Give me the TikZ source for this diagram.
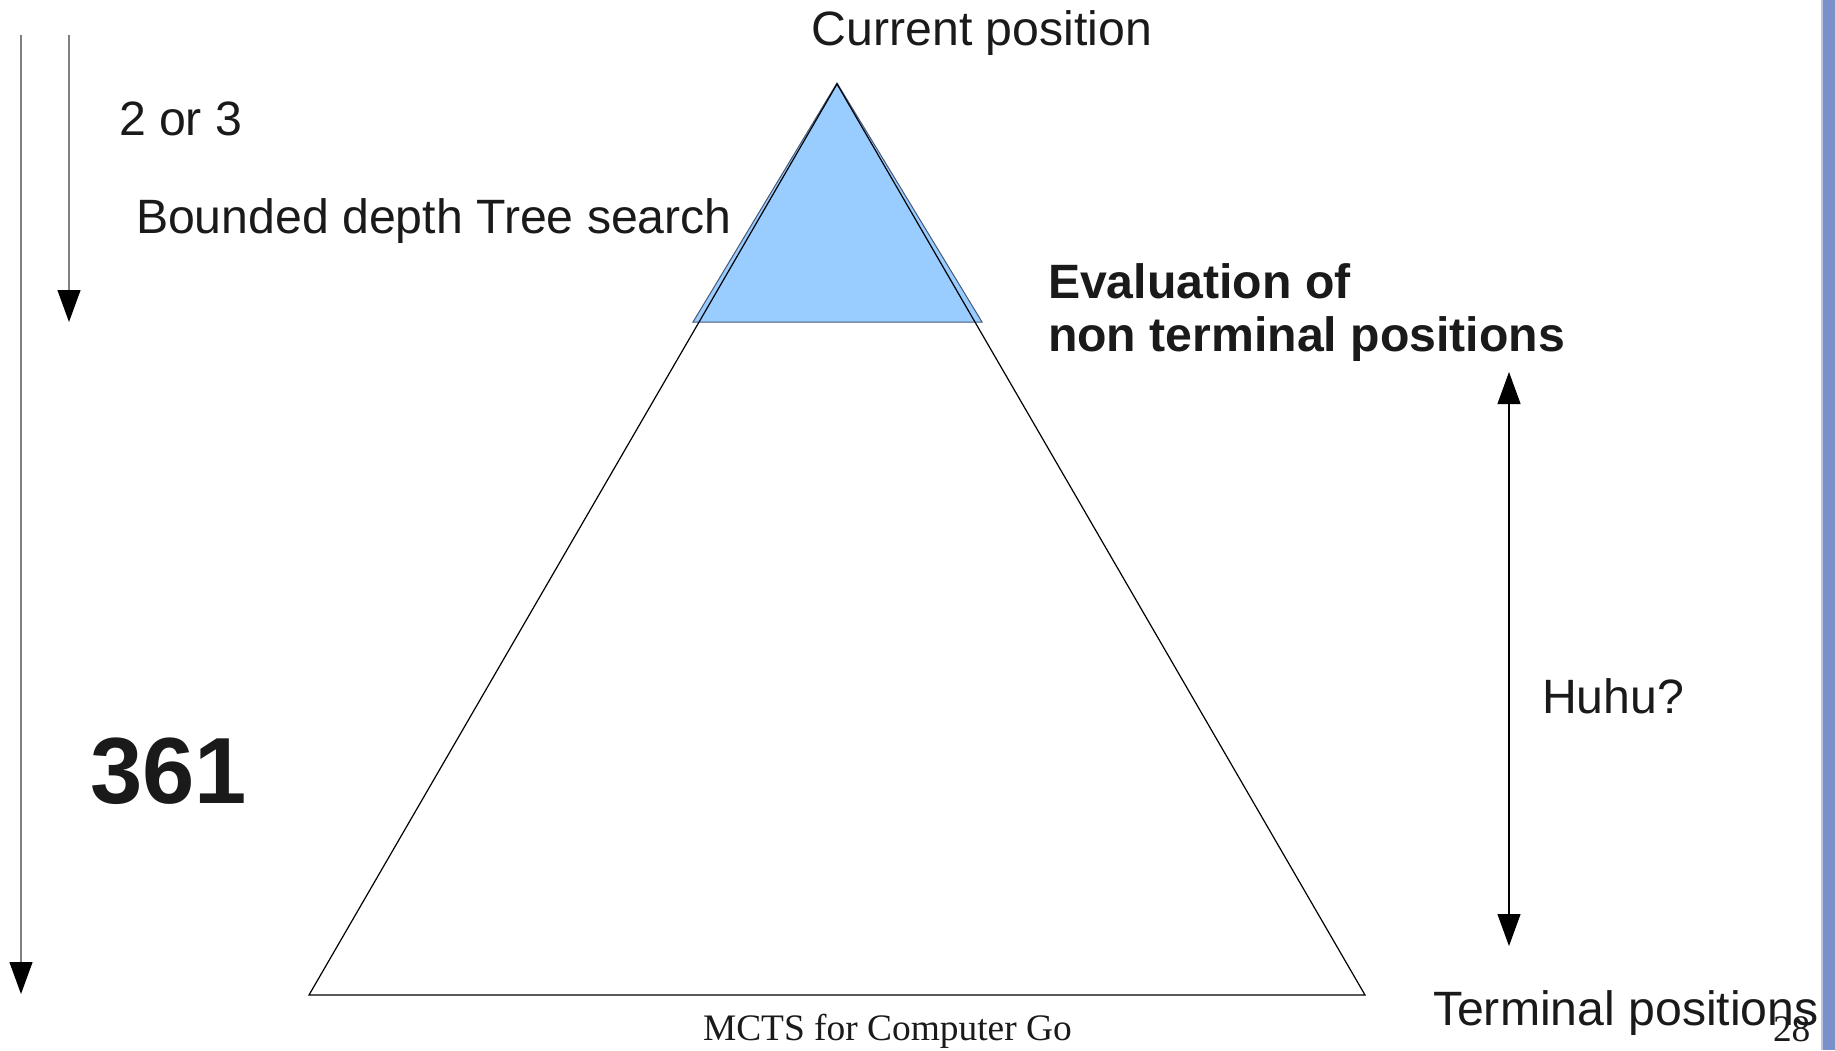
\documentclass[tikz,border=0pt]{standalone}
\usepackage{fontspec}
\setmainfont{Liberation Sans}
\newfontfamily\footerfont{Liberation Serif}
\usetikzlibrary{arrows.meta}

\definecolor{searchblue}{RGB}{153,204,255}
\definecolor{searchedge}{RGB}{70,90,120}
\definecolor{depthgray}{RGB}{128,128,128}
\definecolor{inktext}{RGB}{26,26,26}
\definecolor{sidebarblue}{RGB}{122,144,200}
\definecolor{sidebaredge}{RGB}{185,198,226}

\begin{document}
\begin{tikzpicture}[x=0.5pt,y=-0.5pt,
  txt/.style={inner sep=0pt,outer sep=0pt,anchor=base west,text=inktext,
    font=\fontsize{24.1}{26}\selectfont},
  boldtxt/.style={txt,font=\fontsize{24.1}{26}\selectfont\bfseries},
  bigtxt/.style={txt,font=\fontsize{47}{52}\selectfont\bfseries},
  foot/.style={inner sep=0pt,outer sep=0pt,anchor=base west,text=inktext,
    font=\footerfont\fontsize{18.7}{20}\selectfont},
  headtip/.style={-{Triangle[length=16pt,width=11.5pt,color=black]}},
  depthline/.style={draw=depthgray,line width=0.6pt,headtip},
  spanline/.style={draw=black,line width=0.55pt,
    {Triangle[length=16pt,width=11.5pt]}-{Triangle[length=16pt,width=11.5pt]}},
  treeedge/.style={draw=black,line width=0.6pt,line join=miter},
  searchtri/.style={fill=searchblue,draw=searchedge,line width=0.5pt}
]
\useasboundingbox (0,0) rectangle (1835,1050);
\fill[white] (0,0) rectangle (1835,1050);

% slide side bar
\fill[sidebarblue] (1821,0) rectangle (1835,1050);
\draw[sidebaredge,line width=0.8pt] (1821.8,0) -- (1821.8,1050);

% game tree corners
\coordinate (root) at (837,84);
\coordinate (leafL) at (309,995);
\coordinate (leafR) at (1365,995);
% bounded search corners
\coordinate (sroot) at (837,83);
\coordinate (sL) at (693,322);
\coordinate (sR) at (982,322);

% shallow search region, then the full tree on top
\path[searchtri] (sroot) -- (sL) -- (sR) -- cycle;
\draw[treeedge] (root) -- (leafL) -- (leafR) -- cycle;

% depth arrows on the left
\coordinate (fullTop) at (21,35);
\coordinate (fullEnd) at (21,994);
\coordinate (shortTop) at (69,35);
\coordinate (shortEnd) at (69,322);
\draw[depthline] (fullTop) -- (fullEnd);
\draw[depthline] (shortTop) -- (shortEnd);

% remaining depth arrow on the right
\coordinate (spanTop) at (1509,372);
\coordinate (spanEnd) at (1509,946);
\draw[spanline] (spanTop) -- (spanEnd);

% labels
\node[txt,anchor=base] (current) at (982,45) {Current position};
\node[txt] (twothree) at (119,135) {2 or 3};
\node[txt] (bounded) at (136,233) {Bounded depth Tree search};
\node[boldtxt] (evalA) at (1048,298) {Evaluation of};
\node[boldtxt] (evalB) at (1048,351) {non terminal positions};
\node[txt] (huhu) at (1542,713) {Huhu?};
\node[bigtxt] (moves) at (90,803) {361};
\node[txt] (terminal) at (1433,1025) {Terminal positions};

% footer
\node[foot] (title) at (703,1040) {MCTS for Computer Go};
\node[foot] (page) at (1773,1041) {28};
\end{tikzpicture}
\end{document}
